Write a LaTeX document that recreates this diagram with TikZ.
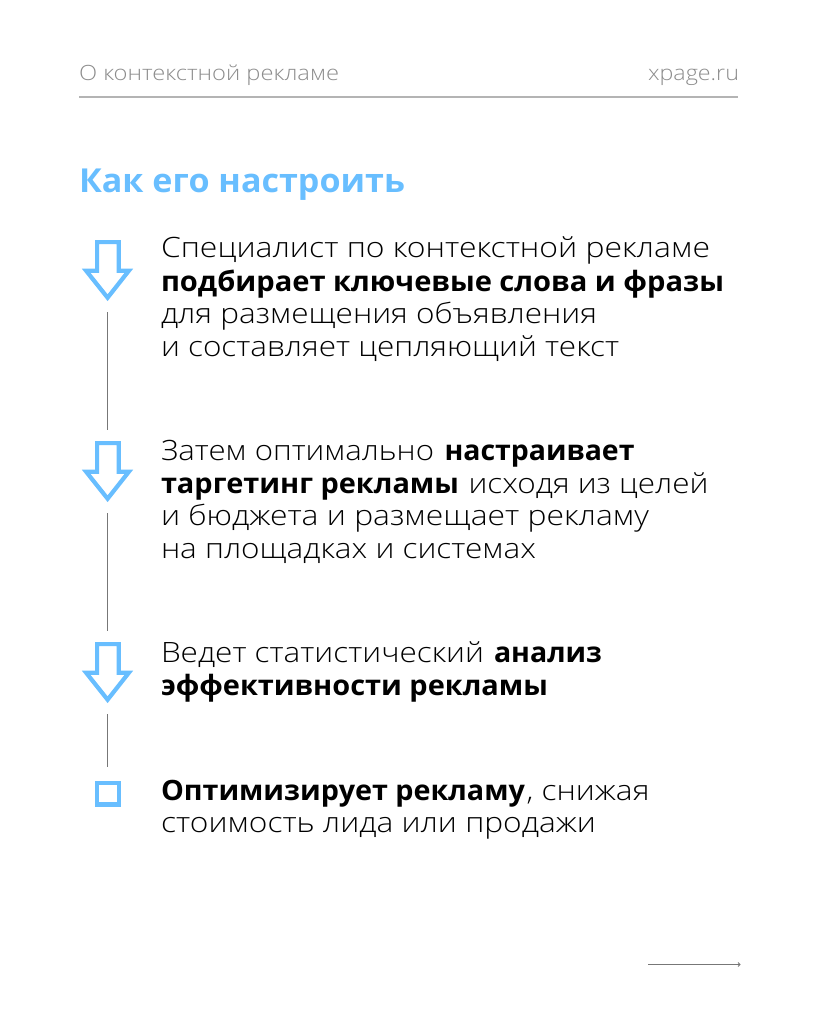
\documentclass[tikz,border=0pt]{standalone}
\usepackage{fontspec}
\usepackage{graphicx}
\setmainfont{Open Sans Light}
\newfontfamily\rgfont{Open Sans Light}
\newfontfamily\bdfont{Open Sans Bold}
\definecolor{skyb}{HTML}{68BEFF}
\definecolor{hdgray}{HTML}{8C8C8C}
\definecolor{rulegray}{HTML}{B4B4B4}
\definecolor{linegray}{HTML}{777777}
\newcommand{\bd}[1]{{\bdfont #1}}
\newcommand{\fitw}[2]{\resizebox{#1pt}{\height}{#2}}
\tikzset{
  txt/.style={anchor=base west,inner sep=0pt,outer sep=0pt,font=\rgfont\fontsize{28}{32}\selectfont,text=black},
  hdr/.style={anchor=base west,inner sep=0pt,outer sep=0pt,font=\rgfont\fontsize{21}{25}\selectfont,text=hdgray},
  ttl/.style={anchor=base west,inner sep=0pt,outer sep=0pt,font=\bdfont\fontsize{33}{38}\selectfont,text=skyb},
  arrowicon/.style={draw=skyb,line width=4.2pt,miter limit=10,line join=miter},
  conn/.style={draw=linegray,line width=0.9pt}
}
\newcommand{\downarrowicon}[1]{%
  \draw[arrowicon] (97.1,#1+0) -- (118.7,#1+0) -- (118.7,#1+28.7) -- (128.8,#1+28.7) -- (107.6,#1+55.6) -- (86.2,#1+28.7) -- (97.1,#1+28.7) -- cycle;}
\begin{document}
\begin{tikzpicture}[x=1pt,y=-1pt]
\useasboundingbox (0,0) rectangle (819,1024);
\fill[white] (0,0) rectangle (819,1024);
% header
\node[hdr] (h1) at (79,81) {\fitw{260}{О контекстной рекламе}};
\node[hdr] (h2) at (648,81) {\fitw{91}{xpage.ru}};
\coordinate (ruleL) at (79,97);
\coordinate (ruleR) at (738,97);
\draw[rulegray,line width=1.5pt] (ruleL) -- (ruleR);
\node[ttl] (title) at (79,193) {\fitw{326}{Как его настроить}};
% icons
\downarrowicon{242.1}
\downarrowicon{443.1}
\downarrowicon{644.1}
\node[draw=skyb,line width=4.2pt,minimum width=21.8pt,minimum height=21.8pt,inner sep=0pt,outer sep=0pt] (sq) at (108,793.5) {};
% connectors
\coordinate (a1) at (107.5,312); \coordinate (b1) at (107.5,430);
\coordinate (a2) at (107.5,513); \coordinate (b2) at (107.5,631);
\coordinate (a3) at (107.5,714); \coordinate (b3) at (107.5,767);
\draw[conn] (a1) -- (b1);
\draw[conn] (a2) -- (b2);
\draw[conn] (a3) -- (b3);
% block 1
\node[txt] (t11) at (161,258) {\fitw{549}{Специалист по контекстной рекламе}};
\node[txt] (t12) at (161,291) {\fitw{563}{\bd{подбирает ключевые слова и фразы}}};
\node[txt] (t13) at (161,323) {\fitw{436}{для размещения объявления}};
\node[txt] (t14) at (161,356) {\fitw{458}{и составляет цепляющий текст}};
% block 2
\node[txt] (t21) at (161,460) {\fitw{273}{Затем оптимально}};
\node[txt] (t21b) at (444.5,460) {\fitw{190}{\bd{настраивает}}};
\node[txt] (t22) at (161,493) {\fitw{298}{\bd{таргетинг рекламы}}};
\node[txt] (t22b) at (468.5,493) {\fitw{240}{исходя из целей}};
\node[txt] (t23) at (161,525) {\fitw{488}{и бюджета и размещает рекламу}};
\node[txt] (t24) at (161,558) {\fitw{375}{на площадках и системах}};
% block 3
\node[txt] (t31) at (161,662) {\fitw{323}{Ведет статистический}};
\node[txt] (t31b) at (494,662) {\fitw{108}{\bd{анализ}}};
\node[txt] (t32) at (161,695) {\fitw{387}{\bd{эффективности рекламы}}};
% block 4
\node[txt] (t41) at (161,800) {\fitw{364}{\bd{Оптимизирует рекламу}}};
\node[txt] (t41b) at (526.5,800) {\fitw{123}{, снижая}};
\node[txt] (t42) at (161,832) {\fitw{435}{стоимость лида или продажи}};
% next arrow
\coordinate (n1) at (648,964.5);
\coordinate (n2) at (740,964.5);
\draw[linegray,line width=0.9pt] (n1) -- (n2);
\draw[linegray,line width=0.8pt] (738,962.5) -- (740,964.5) -- (738,966.5);
\end{tikzpicture}
\end{document}
